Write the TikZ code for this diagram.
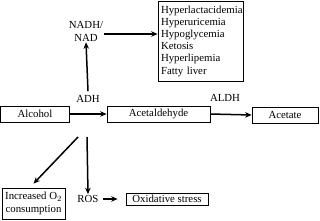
\documentclass[tikz,border=0pt]{standalone}
\usepackage{fontspec}
\setmainfont{Liberation Serif}
\usetikzlibrary{arrows.meta, positioning, calc}
\tikzset{
  arrowK/.style={-{Stealth[length=6.5pt, width=5.5pt]}, black, line width=1.5pt},
  boxW/.style={rectangle, draw=black, line width=0.7pt, fill=white,
               align=center, inner sep=2pt},
  labelT/.style={align=center, inner sep=1pt},
}

\begin{document}
\begin{tikzpicture}[x=1pt, y=1pt, font=\fontsize{10.8}{13}\selectfont]
    \useasboundingbox (0,0) rectangle (320,-220);
    % main pathway
    \node[boxW, minimum width=69pt, minimum height=16pt] (alc) at (35,-114) {Alcohol};
    \node[boxW, minimum width=103pt, minimum height=16pt] (ald) at (158.5,-114) {Acetaldehyde};
    \node[boxW, minimum width=66pt, minimum height=16pt] (ace) at (285,-115) {Acetate};
    \node[labelT] (adh) at (88,-99) {ADH};
    \node[labelT] (aldh) at (225,-98) {ALDH};
    \draw[arrowK] (alc.east) -- (ald.west);
    \draw[arrowK] (ald.east) -- (ace.west);
    % redox branch
    \node[labelT] (nad) at (86,-31) {NADH/\\NAD};
    \node[boxW, align=left, minimum width=85pt, minimum height=80pt,
          text width=79pt, inner sep=3pt, font=\fontsize{10.8}{12.2}\selectfont]
          (lst) at (200.5,-41) {Hyperlactacidemia\\Hyperuricemia\\Hypoglycemia\\Ketosis\\Hyperlipemia\\Fatty liver};
    \coordinate (adhtop) at ([yshift=3pt]adh.north);
    \draw[arrowK] (adhtop) -- (nad.south);
    \draw[arrowK] ([yshift=-3pt]nad.east) -- ([yshift=-3pt]nad.east -| lst.west);
    % oxidative branch
    \coordinate (rx) at (87,-137);
    \node[labelT] (ros) at (88,-199) {ROS};
    \node[boxW, minimum width=63pt, minimum height=31pt, align=center] (inc) at (33.5,-203.5)
          {Increased O$_2$\\consumption};
    \node[boxW, minimum width=82pt, minimum height=12pt, inner sep=1pt] (oxs) at (167,-199) {Oxidative stress};
    \draw[arrowK] (rx) -- (ros.north);
    \draw[arrowK] ([xshift=-9pt]rx) -- ([yshift=4pt]inc.north);
    \draw[arrowK] ([xshift=3pt]ros.east) -- ([xshift=-8pt]oxs.west);
\end{tikzpicture}
\end{document}
